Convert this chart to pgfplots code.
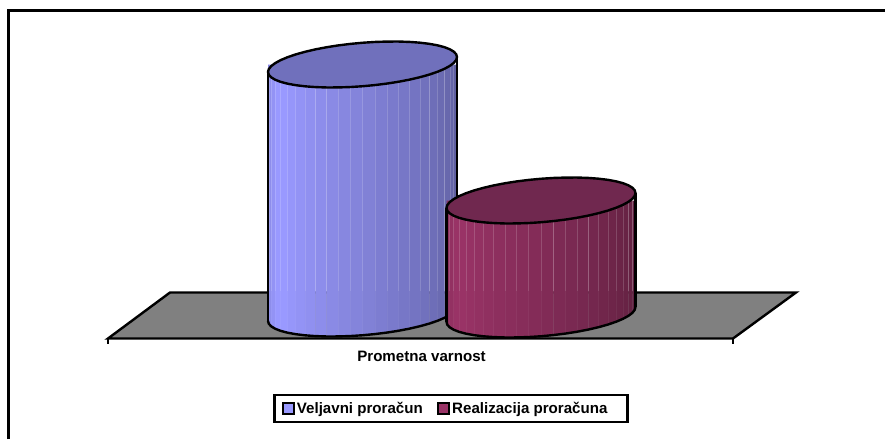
\documentclass[border=0pt]{standalone}
\usepackage{pgfplots}
\usepackage{pgfplotstable}
\usepackage{fontspec}
\setmainfont{Liberation Sans}
\pgfplotsset{compat=1.18}
\definecolor{blueb}{HTML}{9999FF}
\definecolor{bluet}{HTML}{7070BC}
\definecolor{redb}{HTML}{993366}
\definecolor{redt}{HTML}{70284F}
\definecolor{floorc}{HTML}{808080}
% front half of the cylinder rim: offset from the cylinder's axis, and side shading
\pgfplotstableread{
dx dy p
-94.5 7.49 88
-93.69 10.26 92
-91.28 12.86 96
-87.31 15.24 100
-81.84 17.36 100
-74.97 19.18 98
-66.82 20.67 96
-57.53 21.81 94
-47.25 22.58 92
-36.16 22.96 90
-24.46 22.94 88
-12.33 22.54 86
0 21.75 84
12.33 20.58 82
24.46 19.07 80
36.16 17.23 78
47.25 15.09 76
57.53 12.69 74
66.82 10.08 72
74.97 7.30 70
81.84 4.39 68
87.31 1.40 66
91.28 -1.6 63
93.69 -4.59 60
94.5 -7.49 60
}\arc
% whole rim
\pgfplotstableread{
dx dy
-94.5 7.49
-93.69 10.26
-91.28 12.86
-87.31 15.24
-81.84 17.36
-74.97 19.18
-66.82 20.67
-57.53 21.81
-47.25 22.58
-36.16 22.96
-24.46 22.94
-12.33 22.54
0 21.75
12.33 20.58
24.46 19.07
36.16 17.23
47.25 15.09
57.53 12.69
66.82 10.08
74.97 7.30
81.84 4.39
87.31 1.40
91.28 -1.6
93.69 -4.59
94.5 -7.49
93.69 -10.26
91.28 -12.86
87.31 -15.24
81.84 -17.36
74.97 -19.18
66.82 -20.67
57.53 -21.81
47.25 -22.58
36.16 -22.96
24.46 -22.94
12.33 -22.54
0 -21.75
-12.33 -20.58
-24.46 -19.07
-36.16 -17.23
-47.25 -15.09
-57.53 -12.69
-66.82 -10.08
-74.97 -7.30
-81.84 -4.39
-87.31 -1.40
-91.28 1.6
-93.69 4.59
}\rim
\newcommand\cylinder[5]{% cx, topy, height, side colour, top colour
  \def\cx{#1}\def\topy{#2}\pgfmathsetmacro\boty{#2+#3}
  \pgfplotsforeachungrouped \i in {0,...,23}{%
    \pgfmathtruncatemacro\j{\i+1}%
    \pgfplotstablegetelem{\i}{dx}\of\arc\let\xa\pgfplotsretval
    \pgfplotstablegetelem{\i}{dy}\of\arc\let\da\pgfplotsretval
    \pgfplotstablegetelem{\i}{p}\of\arc\let\pp\pgfplotsretval
    \pgfplotstablegetelem{\j}{dx}\of\arc\let\xb\pgfplotsretval
    \pgfplotstablegetelem{\j}{dy}\of\arc\let\db\pgfplotsretval
    \pgfmathsetmacro\XA{\cx+\xa}\pgfmathsetmacro\XB{\cx+\xb+0.4}%
    \pgfmathsetmacro\YA{\boty+\da}\pgfmathsetmacro\YB{\boty+\db}%
    \pgfmathsetmacro\YT{\topy+\da}%
    \edef\tmp{\noexpand\addplot[draw=none,fill=#4!\pp!black,forget plot] coordinates {(\XA,\topy) (\XB,\topy) (\XB,\YB) (\XA,\YA)} --cycle;
      \noexpand\addplot[white,opacity=0.17,line width=0.6pt,forget plot] coordinates {(\XA,\YT) (\XA,291)};
      \noexpand\addplot[white,opacity=0.05,line width=0.6pt,forget plot] coordinates {(\XA,291) (\XA,\YA)};}%
    \tmp
  }
  % outline of the sides
  \addplot[black,line width=2.4pt,line join=round,forget plot] table[x expr=\thisrow{dx}+#1,y expr=\thisrow{dy}+#2+#3] {\arc};
  \addplot[black,line width=2.4pt,forget plot] coordinates {(#1-94.5,#2+7.49) (#1-94.5,#2+#3+7.49)};
  \addplot[black,line width=2.4pt,forget plot] coordinates {(#1+94.5,#2-7.49) (#1+94.5,#2+#3-7.49)};
  % top
  \addplot[draw=black,fill=#5,line width=2.4pt,line join=round,forget plot] table[x expr=\thisrow{dx}+#1,y expr=\thisrow{dy}+#2] {\rim} --cycle;
}
\begin{document}
\begin{tikzpicture}
\path[use as bounding box] (0,0) rectangle (885pt,439pt);
\begin{axis}[
  scale only axis,width=885pt,height=439pt,
  xmin=0,xmax=885,ymin=0,ymax=439,y dir=reverse,
  hide axis,clip=false,
  legend columns=2,
  legend style={at={(0.5096,0.0695)},anchor=center,draw=black,line width=2.4pt,fill=white,
    font=\bfseries\fontsize{15.1}{18}\selectfont,inner xsep=7pt,inner ysep=5pt,
    /tikz/every even column/.append style={column sep=12pt}},
  legend cell align=left,
]
% outer frame
\addplot[black,line width=2.4pt,forget plot] coordinates {(8.5,439) (8.5,10.5) (885,10.5)};
% floor
\addplot[draw=black,fill=floorc,line width=2.4pt,line join=miter,forget plot] coordinates {(108,338.5) (170,292.5) (796,292.5) (733,338.5)} --cycle;
\addplot[black,line width=2.4pt,forget plot] coordinates {(108,338) (108,344)};
\addplot[black,line width=2.4pt,forget plot] coordinates {(733,338) (733,344)};
% cylinders: Veljavni proracun, Realizacija proracuna
\cylinder{362.5}{64.5}{249}{blueb}{bluet}
\cylinder{541}{200.5}{114}{redb}{redt}
\addlegendimage{legend image code/.code={\draw[black,line width=2.4pt,fill=blueb] (0pt,-5.5pt) rectangle (11pt,5.5pt);}}
\addlegendentry{Veljavni proračun\rule[-8pt]{0pt}{1pt}}
\addlegendimage{legend image code/.code={\draw[black,line width=2.4pt,fill=redb] (0pt,-5.5pt) rectangle (11pt,5.5pt);}}
\addlegendentry{Realizacija proračuna\hspace*{11pt}\rule[-8pt]{0pt}{1pt}}
\node[font=\bfseries\fontsize{15.1}{18}\selectfont,anchor=center] at (axis cs:421.5,356.5) {Prometna varnost};
\end{axis}
\end{tikzpicture}
\end{document}
